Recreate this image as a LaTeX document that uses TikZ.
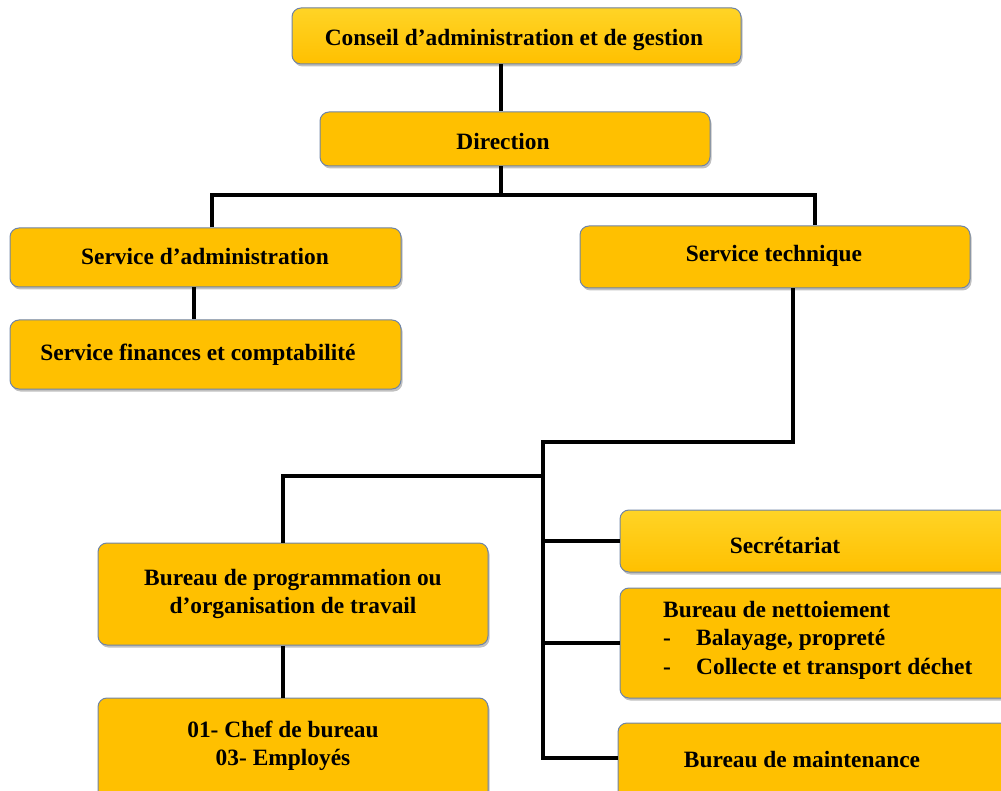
\documentclass[tikz,border=0pt]{standalone}
\usepackage{fontspec}
\setmainfont{Liberation Serif}
\usetikzlibrary{shadows}
\definecolor{boxfill}{HTML}{FFC000}
\definecolor{boxtop}{HTML}{FFD426}
\definecolor{boxline}{HTML}{6F84A6}
\begin{document}
\begin{tikzpicture}[x=1pt,y=-1pt,
  box/.style={draw=boxline, line width=1pt, fill=boxfill, rounded corners=9pt,
    drop shadow={shadow xshift=1.5pt, shadow yshift=-2.5pt, fill=black!45, opacity=.55},
    inner sep=0pt},
  shadebox/.style={box, top color=boxtop, bottom color=boxfill},
  txt/.style={inner sep=0pt, font=\fontsize{23.4}{28.5}\selectfont\bfseries, align=center},
  conn/.style={line width=4pt, black}]
\useasboundingbox (0,0) rectangle (1001,791);
\clip (0,0) rectangle (1001,791);
% boxes
\node[shadebox, minimum width=449pt, minimum height=56pt] (conseil) at (516.5,36) {};
\node[box, minimum width=390pt, minimum height=54pt] (dir) at (515,139) {};
\node[box, minimum width=391pt, minimum height=59pt] (adm) at (205.5,257.5) {};
\node[box, minimum width=390pt, minimum height=62pt] (tech) at (775,257) {};
\node[box, minimum width=391pt, minimum height=69pt] (fin) at (205.5,354.5) {};
\node[box, minimum width=390pt, minimum height=102pt] (prog) at (293,594) {};
\node[box, minimum width=390pt, minimum height=102pt] (chef) at (293,749) {};
\node[shadebox, minimum width=410pt, minimum height=62pt] (secr) at (825,541) {};
\node[box, minimum width=410pt, minimum height=110pt] (nett) at (825,643) {};
\node[box, minimum width=412pt, minimum height=107pt] (maint) at (824,776.5) {};
% texts
\node[txt] (tconseil) at (514,40) {Conseil d’administration et de gestion};
\node[txt] (tdir) at (503,141) {Direction};
\node[txt] (tadm) at (205,256) {Service d’administration};
\node[txt] (ttech) at (774,256) {Service technique};
\node[txt] (tfin) at (198,355) {Service finances et comptabilité};
\node[txt] (tsecr) at (785,545) {Secrétariat};
\node[txt, align=left, anchor=west] (tnett) at (663,640)
  {Bureau de nettoiement\\\makebox[33pt][l]{-}Balayage, propreté\\\makebox[33pt][l]{-}Collecte et transport déchet};
\node[txt] (tmaint) at (802,760) {Bureau de maintenance};
\node[txt] (tprog) at (293,594) {Bureau de programmation ou\\d’organisation de travail};
\node[txt] (tchef) at (283,746) {01- Chef de bureau\\03- Employés};
% connector coordinates
\coordinate (j1) at (501,195);
\coordinate (la) at (212,195);
\coordinate (ra) at (815,195);
\coordinate (a2) at (194,0);
\coordinate (t1) at (793,442);
\coordinate (t2) at (543,442);
\coordinate (t3) at (543,758);
\coordinate (p1) at (543,476);
\coordinate (p2) at (283,476);
% connectors
\draw[conn] (conseil.south -| j1) -- (dir.north -| j1);
\draw[conn] (dir.south -| j1) -- (j1);
\draw[conn] (adm.north -| la) -- (la) -- (ra) -- (tech.north -| ra);
\draw[conn] (adm.south -| a2) -- (fin.north -| a2);
\draw[conn] (tech.south -| t1) -- (t1) -- (t2) -- (t3) -- (maint.west |- t3);
\draw[conn] (secr.west -| t2) -- (secr.west);
\draw[conn] (nett.west -| t2) -- (nett.west);
\draw[conn] (p1) -- (p2) -- (prog.north -| p2);
\draw[conn] (prog.south -| p2) -- (chef.north -| p2);
\end{tikzpicture}
\end{document}
